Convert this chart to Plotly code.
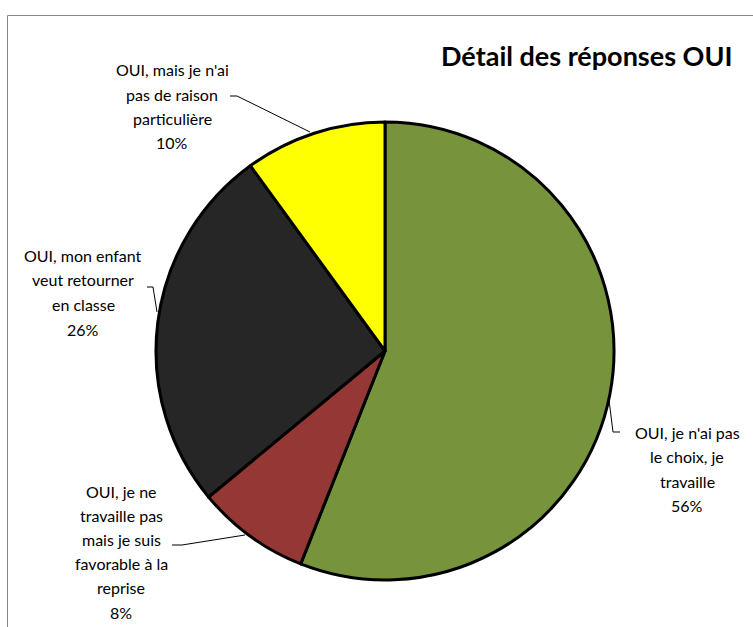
import plotly.graph_objects as go

# Data
labels = [
    "OUI, je n'ai pas<br>le choix, je<br>travaille",
    "OUI, je ne<br>travaille pas<br>mais je suis<br>favorable à la<br>reprise",
    "OUI, mon enfant<br>veut retourner<br>en classe",
    "OUI, mais je n'ai<br>pas de raison<br>particulière",
]
values = [56, 8, 26, 10]
colors = ["#77933C", "#953735", "#262626", "#FFFF00"]
title_text = "Détail des réponses OUI"

W, H = 753, 627
FONT = "Lato, Calibri, Arial, sans-serif"

def px(x):
    return x / W

def py(y):
    return 1 - y / H

# pie geometry (pixels)
cx, cy, r = 385, 351, 229

fig = go.Figure(go.Pie(
    labels=[l.replace("<br>", " ") for l in labels],
    values=values,
    sort=False,
    direction="clockwise",
    rotation=0,
    marker=dict(colors=colors, line=dict(color="black", width=3)),
    textinfo="none",
    hoverinfo="skip",
    showlegend=False,
    domain=dict(x=[px(cx - r), px(cx + r)], y=[py(cy + r), py(cy - r)]),
))

total = sum(values)
pct = [f"{round(v / total * 100)}%" for v in values]

# label layout: (center x, first line y, line spacing)
label_pos = [
    (687, 432, 24.5),
    (121, 491, 24.2),
    (83, 255, 24.7),
    (172, 70, 24),
]

annotations = []
for lab, p, (lx, ly, sp) in zip(labels, pct, label_pos):
    lines = lab.split("<br>") + [p]
    for i, t in enumerate(lines):
        annotations.append(dict(
            x=px(lx), y=py(ly + i * sp), xref="paper", yref="paper",
            text=t, showarrow=False, xanchor="center", yanchor="middle",
            font=dict(family=FONT, size=16, color="black"),
        ))

annotations.append(dict(
    x=px(586), y=py(55), xref="paper", yref="paper", text=f"<b>{title_text}</b>",
    showarrow=False, xanchor="center", yanchor="middle",
    font=dict(family=FONT, size=27, color="black"),
))

leaders = [
    [(609, 400), (613, 432), (620, 432)],
    [(172, 545), (182, 545), (245, 535)],
    [(147, 287), (153, 287), (157, 312)],
    [(230, 96), (237, 96), (310, 132)],
]
shapes = []
for pts in leaders:
    path = "M " + " L ".join(f"{px(x)},{py(y)}" for x, y in pts)
    shapes.append(dict(type="path", path=path, xref="paper", yref="paper",
                       line=dict(color="black", width=1)))

# chart frame
shapes.append(dict(type="rect", xref="paper", yref="paper",
                   x0=px(7.5), y0=py(640), x1=px(770), y1=py(15.5),
                   line=dict(color="#878787", width=1)))

fig.update_layout(
    width=W, height=H,
    margin=dict(l=0, r=0, t=0, b=0),
    paper_bgcolor="white", plot_bgcolor="white",
    annotations=annotations, shapes=shapes,
    showlegend=False,
)

fig.write_html("out.html", config={"displayModeBar": False},
               post_script="document.body.style.margin='0';document.body.style.overflow='hidden';")
